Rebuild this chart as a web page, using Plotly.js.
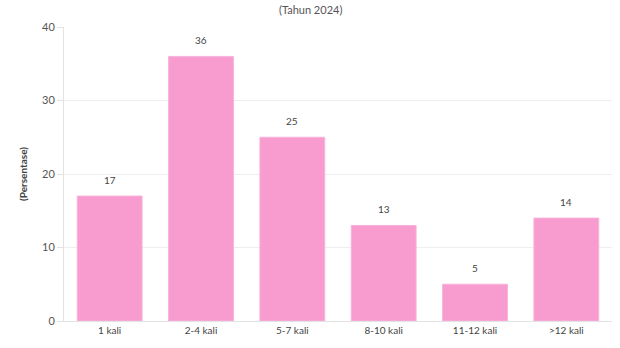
<!DOCTYPE html>
<html>
<head>
<meta charset="utf-8">
<script src="https://cdn.plot.ly/plotly-3.0.1.min.js"></script>
<style>html,body{margin:0;padding:0;background:#fff;}#chart{width:620px;height:348px;}</style>
</head>
<body>
<div id="chart"></div>
<script>
var categories = ["1 kali", "2-4 kali", "5-7 kali", "8-10 kali", "11-12 kali", ">12 kali"];
var values = [17, 36, 25, 13, 5, 14];
var yTicks = [0, 10, 20, 30, 40];
var subtitle = "(Tahun 2024)";

var trace = {
  type: "bar",
  x: categories,
  y: values,
  marker: {color: "#f89cd0", line: {color: "#f7b3da", width: 1}},
  hoverinfo: "none"
};

var labelAnnotations = categories.map(function (c, i) {
  return {
    x: c, y: values[i], xref: "x", yref: "y",
    text: String(values[i]), showarrow: false,
    yanchor: "bottom", yshift: 8,
    font: {family: "Lato, 'Open Sans', sans-serif", size: 10, color: "#444"}
  };
});
labelAnnotations.push({
  x: 0.5, y: 1, xref: "paper", yref: "paper", xanchor: "center", yanchor: "top",
  xshift: -28, yshift: 26, showarrow: false, text: subtitle,
  font: {family: "Lato, 'Open Sans', sans-serif", size: 11, color: "#555"}
});

var layout = {
  width: 620, height: 348,
  margin: {l: 64, r: 8, t: 27, b: 27},
  paper_bgcolor: "#fff", plot_bgcolor: "#fff",
  bargap: 0.29,
  showlegend: false,
  font: {family: "Lato, 'Open Sans', sans-serif", size: 11, color: "#555"},
  annotations: labelAnnotations,
  xaxis: {
    type: "category",
    showline: true, linecolor: "#e3e3e3", linewidth: 1,
    ticks: "", tickfont: {size: 10, color: "#444"},
    showgrid: false, zeroline: false, fixedrange: true
  },
  yaxis: {
    range: [0, 40],
    tickvals: yTicks,
    ticktext: yTicks.map(String),
    ticks: "outside", ticklen: 6, tickcolor: "#e3e3e3",
    showline: true, linecolor: "#e3e3e3", linewidth: 1,
    showgrid: true, gridcolor: "#eeeeee", gridwidth: 1,
    zeroline: false,
    tickfont: {size: 11, color: "#555"},
    title: {text: "<b>(Persentase)</b>", standoff: 12, font: {size: 10, color: "#444"}},
    fixedrange: true
  }
};

Plotly.newPlot("chart", [trace], layout, {displayModeBar: false, staticPlot: true});
</script>
</body>
</html>
